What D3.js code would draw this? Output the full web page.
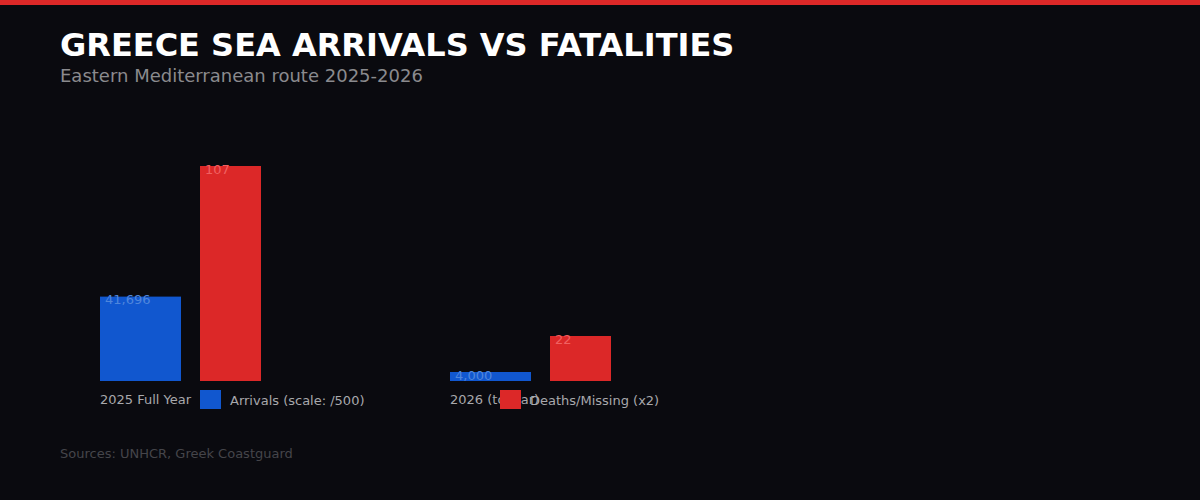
<!DOCTYPE html>
<html lang="en">

<head>
  <meta charset="UTF-8">
  <title>Greece sea arrivals vs fatalities</title>
  <script src="https://cdn.jsdelivr.net/npm/d3@7.6.1/dist/d3.min.js"></script>
  <style>
    html, body {
      margin: 0;
      padding: 0;
      background: #0a0a0f;
    }
    svg {
      display: block;
      font-family: "DejaVu Sans", sans-serif;
    }
  </style>
</head>

<body>
  <div id="box"></div>
  <script>
    const width = 1200
    const height = 500

    // data
    const categories = ['2025 Full Year', '2026 (to Mar)']
    const seriesNames = ['Arrivals (scale: /500)', 'Deaths/Missing (x2)']
    const arrivals = [41696, 4000]
    const deaths = [107, 22]
    const arrivalsDivisor = 500
    const deathsFactor = 2

    const colors = ['#1157cf', '#dc2828']
    const labelColors = ['#4f86dc', '#f06161']

    const svg = d3.select('#box').append('svg')
      .attr('width', width)
      .attr('height', height)

    svg.append('rect')
      .attr('width', width).attr('height', height)
      .attr('fill', '#0a0a0f')

    // red strip on top
    svg.append('rect')
      .attr('width', width).attr('height', 5)
      .attr('fill', '#dc2828')

    svg.append('text')
      .attr('x', 60).attr('y', 56)
      .attr('fill', '#ffffff')
      .attr('font-size', 32)
      .attr('font-weight', 'bold')
      .text('GREECE SEA ARRIVALS VS FATALITIES')

    svg.append('text')
      .attr('x', 60).attr('y', 82)
      .attr('fill', '#8a8a8e')
      .attr('font-size', 18)
      .text('Eastern Mediterranean route 2025-2026')

    // rows: scaled value per series
    const rows = categories.map((c, i) => ({
      cat: c,
      values: [
        { s: 0, raw: arrivals[i], v: arrivals[i] / arrivalsDivisor },
        { s: 1, raw: deaths[i], v: deaths[i] * deathsFactor }
      ]
    }))

    const baseY = 381
    const x0 = d3.scaleBand().domain(categories).range([100, 800])
    const x1 = d3.scaleOrdinal().domain([0, 1]).range([0, 100])
    const barW = d3.scaleOrdinal().domain([0, 1]).range([81, 61])
    const y = d3.scaleLinear()
      .domain([0, d3.max(rows, r => d3.max(r.values, d => d.v))])
      .range([baseY - 1, 166])

    const groups = svg.append('g').selectAll('g')
      .data(rows)
      .join('g')
      .attr('transform', d => `translate(${x0(d.cat)},0)`)

    groups.selectAll('rect')
      .data(d => d.values)
      .join('rect')
      .attr('x', d => x1(d.s))
      .attr('y', d => y(d.v))
      .attr('width', d => barW(d.s))
      .attr('height', d => baseY - y(d.v))
      .attr('fill', d => colors[d.s])

    groups.selectAll('text.val')
      .data(d => d.values)
      .join('text')
      .attr('class', 'val')
      .attr('x', d => x1(d.s) + 5)
      .attr('y', d => y(d.v) + 7.5)
      .attr('fill', d => labelColors[d.s])
      .attr('font-size', 13)
      .text(d => d3.format(',')(d.raw))

    groups.append('text')
      .attr('x', 0)
      .attr('y', 404)
      .attr('fill', '#a8a8ac')
      .attr('font-size', 13)
      .text(d => d.cat)

    // legend (drawn after the category labels, sits on top of them)
    const legend = svg.append('g').selectAll('g')
      .data(seriesNames)
      .join('g')
      .attr('transform', (d, i) => `translate(${200 + i * 300},390)`)

    legend.append('rect')
      .attr('width', 21).attr('height', 19)
      .attr('fill', (d, i) => colors[i])

    legend.append('text')
      .attr('x', 30).attr('y', 15)
      .attr('fill', '#a8a8ac')
      .attr('font-size', 13)
      .text(d => d)

    svg.append('text')
      .attr('x', 60).attr('y', 458)
      .attr('fill', '#45454a')
      .attr('font-size', 13)
      .text('Sources: UNHCR, Greek Coastguard')
  </script>
</body>

</html>
